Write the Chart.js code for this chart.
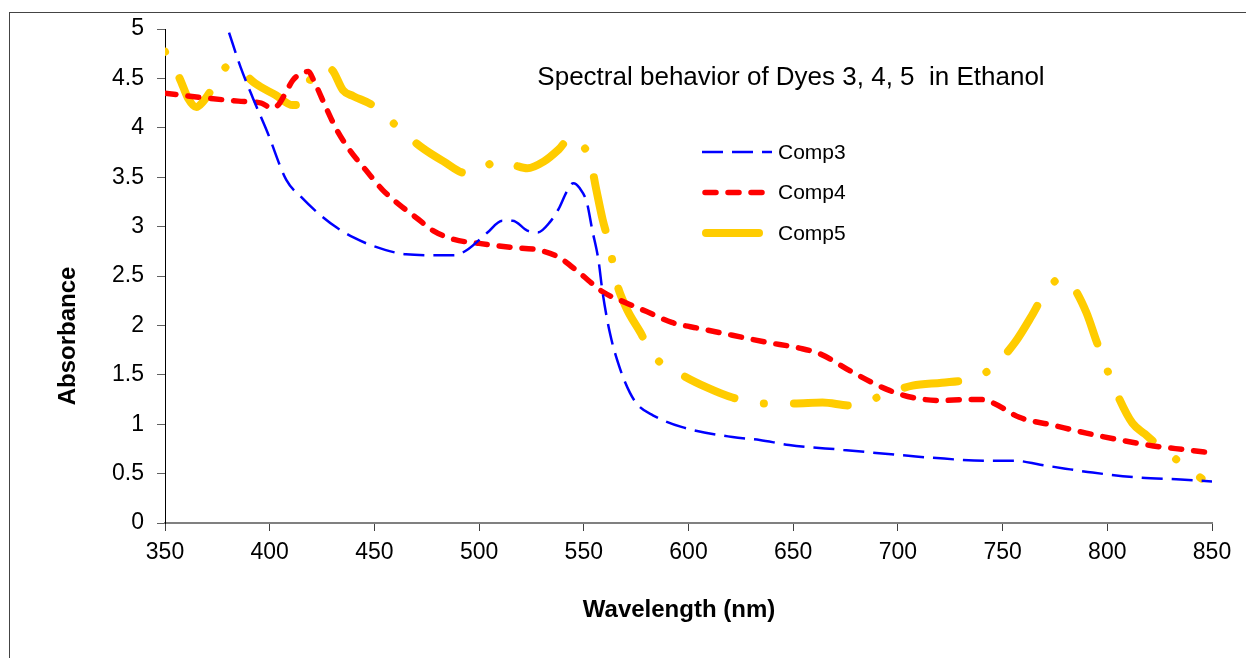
<!DOCTYPE html>
<html lang="en">

<head>
    <meta charset="UTF-8">
    <title>Spectral behavior of Dyes 3, 4, 5 in Ethanol</title>
    <script src="https://cdn.jsdelivr.net/npm/chart.js"></script>
    <style>
        body { margin: 0; background: #fff; }
        #wrap { width: 1246px; height: 658px; position: relative; }
    </style>
</head>

<body>
    <div id="wrap"><canvas id="spectraChart"></canvas></div>

    <script>
        const chartTitle = 'Spectral behavior of Dyes 3, 4, 5  in Ethanol';
        const xAxisTitle = 'Wavelength (nm)';
        const yAxisTitle = 'Absorbance';
        const seriesNames = ['Comp3', 'Comp4', 'Comp5'];

        const xTicks = [350, 400, 450, 500, 550, 600, 650, 700, 750, 800, 850];
        const yTicks = [0, 0.5, 1, 1.5, 2, 2.5, 3, 3.5, 4, 4.5, 5];
        const yTickLabels = ['0', '0.5', '1', '1.5', '2', '2.5', '3', '3.5', '4', '4.5', '5'];

        // values (nm, absorbance)
        const comp3Wavelength = [376, 380, 386, 392, 399, 408, 415, 424, 432, 440, 450, 465, 480, 488, 494, 504, 511, 516, 523, 528, 534, 538, 542, 545, 548, 551.5, 554, 557, 559, 562.5, 567, 572, 576, 583, 597, 621, 634, 648, 674, 705, 730, 745, 756, 768, 780, 793, 815, 835, 850];
        const comp3Absorbance = [5.25, 5.0, 4.62, 4.30, 3.95, 3.47, 3.30, 3.12, 2.99, 2.89, 2.80, 2.72, 2.71, 2.71, 2.76, 2.94, 3.06, 3.06, 2.96, 2.94, 3.05, 3.18, 3.36, 3.44, 3.39, 3.24, 2.97, 2.66, 2.33, 1.92, 1.58, 1.32, 1.19, 1.09, 0.97, 0.87, 0.84, 0.79, 0.74, 0.68, 0.64, 0.63, 0.63, 0.59, 0.55, 0.51, 0.46, 0.44, 0.42];

        const comp4Wavelength = [350, 366, 385, 396, 401, 404, 408, 411, 415, 418.5, 421, 427, 432, 438, 446, 454, 462, 470, 478, 488, 500, 515, 529, 538, 548, 559, 570, 580, 592, 605, 621, 637, 653, 663, 678, 695, 707, 720, 733, 740, 746, 758, 774, 790, 806, 822, 838, 850];
        const comp4Absorbance = [4.35, 4.31, 4.27, 4.25, 4.20, 4.23, 4.37, 4.48, 4.55, 4.57, 4.48, 4.20, 3.98, 3.78, 3.57, 3.37, 3.22, 3.09, 2.96, 2.87, 2.83, 2.79, 2.76, 2.69, 2.53, 2.34, 2.23, 2.14, 2.03, 1.97, 1.90, 1.83, 1.77, 1.71, 1.53, 1.35, 1.27, 1.24, 1.25, 1.25, 1.21, 1.07, 0.99, 0.91, 0.84, 0.78, 0.74, 0.71];

        const comp5Wavelength = [350, 357, 361, 365, 368, 372, 377, 381, 386, 393, 403, 411, 415, 418, 421, 426, 430, 435, 440, 449, 461, 472, 483, 494, 500, 509, 517, 523, 531, 538, 544, 548, 553, 556, 559, 562.5, 565, 570, 577, 583, 596, 609, 621, 635, 650, 664, 677, 685, 692, 707, 721, 733, 740, 746, 756, 764, 771, 776, 779, 783, 790, 795, 805, 812, 818, 824, 835, 845];
        const comp5Absorbance = [4.77, 4.50, 4.30, 4.21, 4.26, 4.38, 4.56, 4.64, 4.58, 4.45, 4.33, 4.23, 4.26, 4.42, 4.56, 4.62, 4.58, 4.38, 4.32, 4.23, 4.01, 3.81, 3.66, 3.54, 3.56, 3.67, 3.62, 3.59, 3.66, 3.78, 3.91, 3.85, 3.68, 3.37, 3.07, 2.79, 2.49, 2.19, 1.93, 1.70, 1.51, 1.37, 1.27, 1.21, 1.21, 1.22, 1.19, 1.22, 1.29, 1.39, 1.42, 1.45, 1.50, 1.59, 1.83, 2.10, 2.36, 2.46, 2.47, 2.41, 2.13, 1.83, 1.29, 1.01, 0.90, 0.79, 0.61, 0.45];

        const fontFamily = '"Liberation Sans", Arial, sans-serif';
        Chart.defaults.font.family = fontFamily;
        Chart.defaults.color = '#000';

        function toPoints(xs, ys) {
            return xs.map((x, i) => ({ x: x, y: ys[i] }));
        }

        // frame, title, legend and axis titles placed like the original
        const decorations = {
            id: 'decorations',
            beforeDraw(chart) {
                const ctx = chart.ctx;
                ctx.save();
                ctx.strokeStyle = '#444';
                ctx.lineWidth = 1;
                ctx.strokeRect(9.5, 12.5, chart.width + 20, chart.height + 20);
                ctx.restore();
            },
            afterDraw(chart) {
                const ctx = chart.ctx;
                ctx.save();
                ctx.fillStyle = '#000';
                ctx.textBaseline = 'alphabetic';

                ctx.font = '26px ' + fontFamily;
                ctx.textAlign = 'center';
                ctx.fillText(chartTitle, 791, 85);

                ctx.font = 'bold 24px ' + fontFamily;
                ctx.fillText(xAxisTitle, 679, 617);
                ctx.save();
                ctx.translate(75, 336);
                ctx.rotate(-Math.PI / 2);
                ctx.fillText(yAxisTitle, 0, 0);
                ctx.restore();

                // legend
                ctx.font = '21px ' + fontFamily;
                ctx.textAlign = 'left';
                ctx.textBaseline = 'middle';
                chart.data.datasets.forEach((ds, i) => {
                    const y = 152 + i * 40.5;
                    ctx.save();
                    ctx.strokeStyle = ds.borderColor;
                    ctx.lineWidth = ds.borderWidth;
                    ctx.lineCap = ds.borderCapStyle || 'butt';
                    ctx.setLineDash(ds.legendDash || ds.borderDash || []);
                    ctx.beginPath();
                    ctx.moveTo(ds.legendFrom, y);
                    ctx.lineTo(ds.legendTo, y);
                    ctx.stroke();
                    ctx.restore();
                    ctx.fillText(ds.label, 778, y + 1);
                });
                ctx.restore();
            }
        };

        const ctx = document.getElementById('spectraChart').getContext('2d');
        const spectraChart = new Chart(ctx, {
            type: 'line',
            data: {
                datasets: [{
                    label: seriesNames[0],
                    data: toPoints(comp3Wavelength, comp3Absorbance),
                    borderColor: '#0000FF',
                    borderWidth: 2.5,
                    borderDash: [21, 9],
                    legendFrom: 702, legendTo: 772
                }, {
                    label: seriesNames[1],
                    data: toPoints(comp4Wavelength, comp4Absorbance),
                    borderColor: '#FF0000',
                    borderWidth: 5.5,
                    borderDash: [11, 12],
                    borderCapStyle: 'round',
                    legendFrom: 705, legendTo: 770
                }, {
                    label: seriesNames[2],
                    data: toPoints(comp5Wavelength, comp5Absorbance),
                    borderColor: '#FFCC00',
                    borderWidth: 8,
                    borderDash: [54, 30, 0.1, 30],
                    borderDashOffset: 84,
                    borderCapStyle: 'round',
                    legendDash: [],
                    legendFrom: 706, legendTo: 759
                }]
            },
            options: {
                responsive: true,
                maintainAspectRatio: false,
                animation: false,
                layout: { padding: { left: 0, top: 29, right: 34, bottom: 0 } },
                elements: {
                    point: { radius: 0, hoverRadius: 0 },
                    line: { cubicInterpolationMode: 'monotone', fill: false }
                },
                plugins: {
                    legend: { display: false },
                    tooltip: { enabled: false }
                },
                scales: {
                    x: {
                        type: 'linear',
                        min: 350,
                        max: 850,
                        afterBuildTicks: (scale) => { scale.ticks = xTicks.map(v => ({ value: v })); },
                        afterFit: (scale) => { scale.height = 135; },
                        grid: { drawOnChartArea: false, drawTicks: true, tickLength: 8, color: '#404040', lineWidth: 1 },
                        border: { display: true, color: '#808080', width: 2 },
                        ticks: { font: { size: 23 }, padding: 8, maxRotation: 0, color: '#000' }
                    },
                    y: {
                        type: 'linear',
                        min: 0,
                        max: 5,
                        afterBuildTicks: (scale) => { scale.ticks = yTicks.map(v => ({ value: v })); },
                        afterFit: (scale) => { scale.width = 165; },
                        grid: { drawOnChartArea: false, drawTicks: true, tickLength: 8, color: '#606060', lineWidth: 1 },
                        border: { display: true, color: '#000', width: 1 },
                        ticks: {
                            font: { size: 23 },
                            padding: 13,
                            color: '#000',
                            callback: (value) => yTickLabels[yTicks.indexOf(value)]
                        }
                    }
                }
            },
            plugins: [decorations]
        });
    </script>
</body>

</html>
